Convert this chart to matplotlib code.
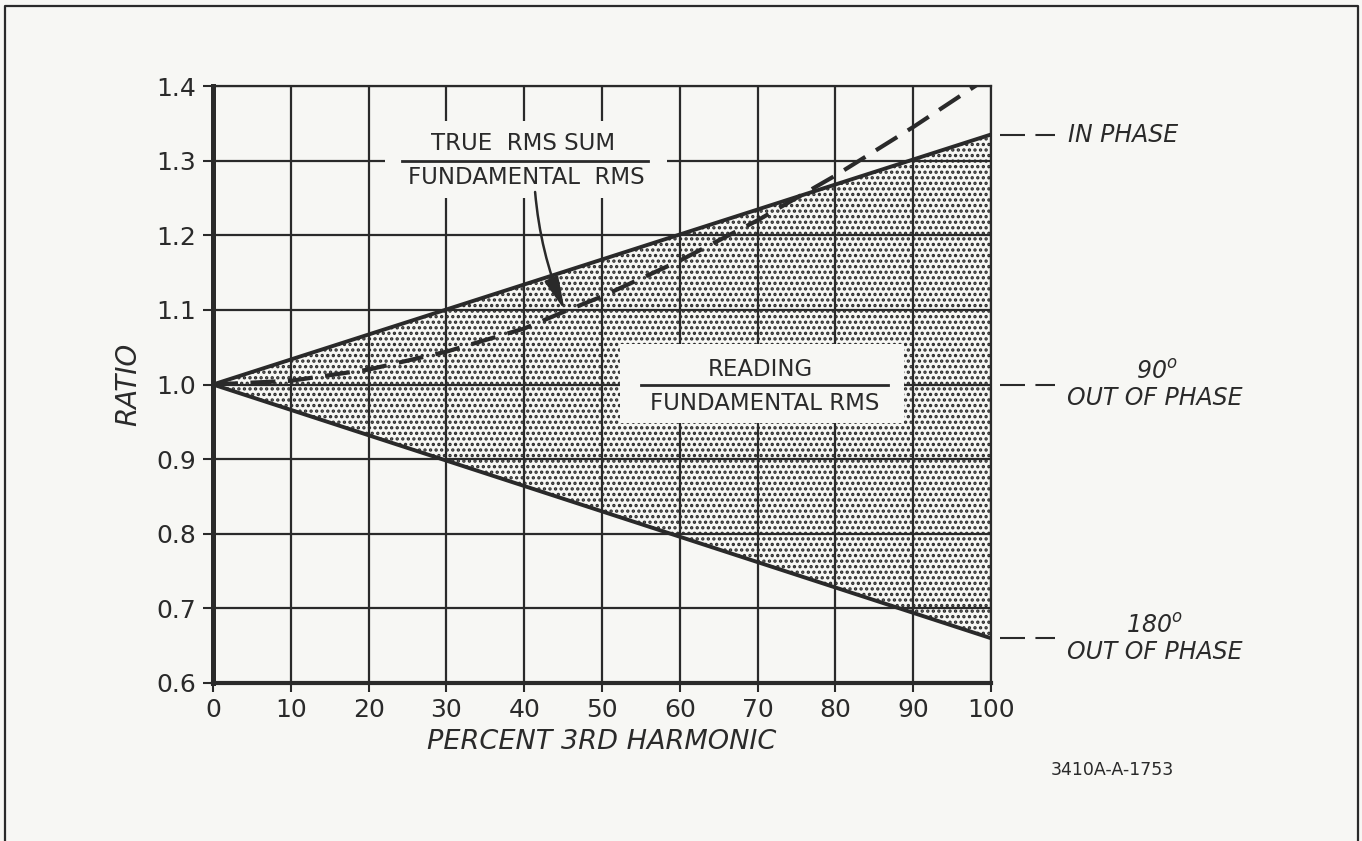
"""
Reading ratio vs percent 3rd harmonic, redrawn from the old chart
"""
import numpy as np
import matplotlib.pyplot as plt
from matplotlib.lines import Line2D
from matplotlib.patches import Rectangle
from matplotlib.ticker import MultipleLocator, FormatStrFormatter

# values
harmonic = [0, 100]
in_phase = [1.0, 1.335]
out_180 = [1.0, 0.66]

rms_x = [0, 10, 20, 30, 40, 45, 50, 60, 70, 80, 90, 100]
rms_sum = [1.0, 1.005, 1.02, 1.044, 1.075, 1.097, 1.118, 1.166, 1.22, 1.28, 1.345, 1.414]

ink = '#2a2a2a'
paper = '#f7f7f4'

plt.rcParams['hatch.linewidth'] = 1.6
plt.rcParams['font.family'] = ['DejaVu Sans']

fig = plt.figure(figsize=(13.62, 8.41), dpi=100, facecolor=paper)
ax = fig.add_axes([213/1362, 1-683/841, 778/1362, 597/841], facecolor=paper)

# stippled band between in phase and 180 deg
ax.fill_between(harmonic, out_180, in_phase, facecolor='none', edgecolor=ink,
                hatch='...', linewidth=0, zorder=1)

ax.plot(harmonic, in_phase, color=ink, lw=2.8, zorder=4, solid_capstyle='butt')
ax.plot(harmonic, out_180, color=ink, lw=2.8, zorder=4, solid_capstyle='butt')
ax.plot(rms_x, rms_sum, color=ink, lw=3, dashes=(6, 3), zorder=4)

ax.set_xlim(0, 100)
ax.set_ylim(0.6, 1.4)
ax.xaxis.set_major_locator(MultipleLocator(10))
ax.yaxis.set_major_locator(MultipleLocator(0.1))
ax.yaxis.set_major_formatter(FormatStrFormatter('%.1f'))
ax.set_axisbelow(False)
ax.grid(True, color=ink, lw=1.6)
for ln in ax.get_xgridlines() + ax.get_ygridlines():
    ln.set_zorder(2)

ax.tick_params(direction='out', color=ink, labelcolor=ink, labelsize=18, width=1.5)
ax.tick_params(axis='y', length=7, pad=5)
ax.tick_params(axis='x', length=6.5, pad=4)

for side in ['top', 'right']:
    ax.spines[side].set_linewidth(1.6)
ax.spines['left'].set_linewidth(3.6)
ax.spines['bottom'].set_linewidth(3.0)
for sp in ax.spines.values():
    sp.set_color(ink)
    sp.set_zorder(5)

ax.set_xlabel('PERCENT 3RD HARMONIC', fontsize=19.5, style='italic', color=ink,
              va='center', ha='center')
ax.xaxis.set_label_coords(0.5, -0.099)
ax.set_ylabel('RATIO', fontsize=20, style='italic', color=ink, va='center', ha='center')
ax.yaxis.set_label_coords(-0.109, 0.5)

# label boxes
ax.add_patch(Rectangle((22.1, 1.25), 36.3, 0.103, facecolor=paper, edgecolor='none', zorder=3))
ax.text(39.8, 1.3236, 'TRUE  RMS SUM', ha='center', va='center', fontsize=16.5, color=ink, zorder=6)
ax.plot([24.3, 55.9], [1.3, 1.3], color=ink, lw=2, zorder=6)
ax.text(40.3, 1.278, 'FUNDAMENTAL  RMS', ha='center', va='center', fontsize=16.5, color=ink, zorder=6)

ax.add_patch(Rectangle((52.3, 0.948), 36.5, 0.106, facecolor=paper, edgecolor='none', zorder=3))
ax.text(70.4, 1.0207, 'READING', ha='center', va='center', fontsize=16.5, color=ink, zorder=6)
ax.plot([55.0, 86.8], [1.0, 1.0], color=ink, lw=2, zorder=6)
ax.text(70.9, 0.975, 'FUNDAMENTAL RMS', ha='center', va='center', fontsize=16.5, color=ink, zorder=6)

ax.annotate('', xy=(45.2, 1.0997), xytext=(41.4, 1.258),
            arrowprops=dict(arrowstyle='-|>,head_length=1.0,head_width=0.22',
                            connectionstyle='arc3,rad=0.08', color=ink, lw=1.8,
                            mutation_scale=20, shrinkA=0, shrinkB=0), zorder=6)

# right hand side notes
for yv in [in_phase[-1], 1.0, out_180[-1]]:
    ax.plot([101.2, 108.2], [yv, yv], color=ink, lw=1.5, dashes=(12, 5), clip_on=False)

ax.text(109.9, in_phase[-1], 'IN PHASE', ha='left', va='center', fontsize=17, style='italic', color=ink)
ax.text(121.3, 1.0166, '90$^o$', ha='center', va='center', fontsize=17, style='italic', color=ink)
ax.text(121.1, 0.9818, 'OUT OF PHASE', ha='center', va='center', fontsize=17, style='italic', color=ink)
ax.text(121.0, out_180[-1] + 0.016, '180$^o$', ha='center', va='center', fontsize=17, style='italic', color=ink)
ax.text(121.0, out_180[-1] - 0.018, 'OUT OF PHASE', ha='center', va='center', fontsize=17, style='italic', color=ink)

fig.text(1112/1362, 1-770/841, '3410A-A-1753', ha='center', va='center', fontsize=12.5, color=ink)

# drawing frame
fx0, fx1, fy1 = 5/1362, 1358/1362, 1-6/841
fig.add_artist(Line2D([fx0, fx0, fx1, fx1], [0, fy1, fy1, 0], transform=fig.transFigure,
                      color=ink, lw=1.6))

fig.savefig('out.png', dpi=100, facecolor=paper)
